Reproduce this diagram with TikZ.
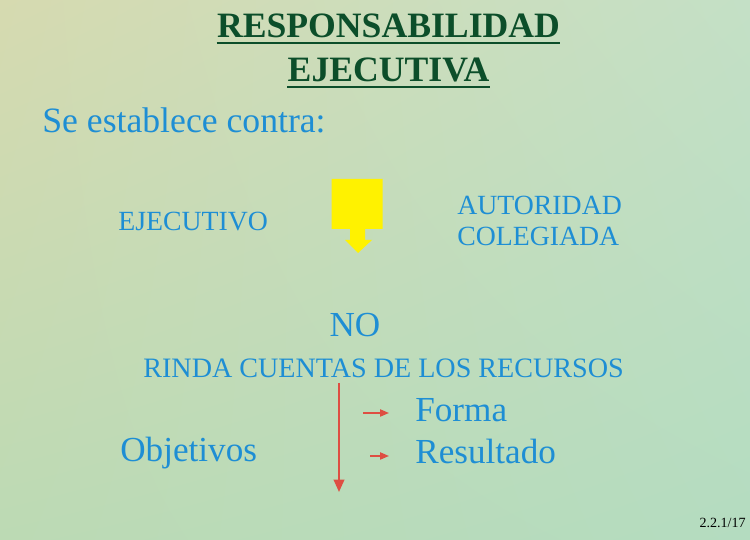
\documentclass[tikz,border=0pt]{standalone}
\usepackage{fontspec}
\setmainfont{Liberation Serif}
\usetikzlibrary{arrows.meta,shadings}

\definecolor{titlegreen}{RGB}{12,78,42}
\definecolor{textblue}{RGB}{30,142,212}
\definecolor{arrowred}{RGB}{222,78,66}
\definecolor{bgUL}{RGB}{214,218,176}
\definecolor{bgUR}{RGB}{196,224,198}
\definecolor{bgLL}{RGB}{188,218,180}
\definecolor{bgLR}{RGB}{180,220,192}

\begin{document}
\begin{tikzpicture}[
  bluetxt/.style={text=textblue,inner sep=0pt},
  redarrow/.style={arrowred,line width=0.9pt,-{Triangle[length=5pt,width=4pt]}}
]
% background
\useasboundingbox (0,0) rectangle (15,10.8);
\shade[upper left=bgUL,upper right=bgUR,lower left=bgLL,lower right=bgLR]
  (0,0) rectangle (15,10.8);

% title
\node[anchor=base,inner sep=0pt,text=titlegreen,font=\fontsize{20.3}{24}\selectfont\bfseries]
  (title1) at (7.77,10.04) {RESPONSABILIDAD};
\node[anchor=base,inner sep=0pt,text=titlegreen,font=\fontsize{20.3}{24}\selectfont\bfseries]
  (title2) at (7.77,9.16) {EJECUTIVA};
\draw[titlegreen,line width=1.3pt] ([yshift=-2.9pt]title1.base west) -- ([yshift=-2.9pt]title1.base east);
\draw[titlegreen,line width=1.3pt] ([yshift=-2.9pt]title2.base west) -- ([yshift=-2.9pt]title2.base east);

\node[bluetxt,anchor=base west,font=\fontsize{20.3}{24}\selectfont] (contra) at (0.84,8.14) {Se establece contra:};

% the two sides
\node[bluetxt,anchor=base west,font=\fontsize{15.8}{18}\selectfont] (ejecutivo) at (2.36,6.18) {EJECUTIVO};
\node[bluetxt,anchor=north west,align=left,font=\fontsize{15.8}{17.6}\selectfont] (autoridad) at (9.14,6.88) {AUTORIDAD\\COLEGIADA};

% yellow arrow
\fill[yellow] (6.63,7.22) -- (7.65,7.22) -- (7.65,6.22) -- (7.3,6.22) -- (7.3,6.0)
  -- (7.44,6.0) -- (7.16,5.74) -- (6.9,6.0) -- (7.0,6.0) -- (7.0,6.22) -- (6.63,6.22) -- cycle;

\node[bluetxt,anchor=base,font=\fontsize{20}{24}\selectfont] (no) at (7.1,4.06) {NO};
\node[bluetxt,anchor=base west,font=\fontsize{16}{18}\selectfont] (rinda) at (2.86,3.24) {RINDA CUENTAS DE LOS RECURSOS};

% lower part
\node[bluetxt,anchor=base west,font=\fontsize{20}{24}\selectfont] (objetivos) at (2.4,1.56) {Objetivos};
\node[bluetxt,anchor=base west,font=\fontsize{20}{24}\selectfont] (forma) at (8.3,2.36) {Forma};
\node[bluetxt,anchor=base west,font=\fontsize{20}{24}\selectfont] (resultado) at (8.3,1.52) {Resultado};

\coordinate (vtop) at (6.78,3.14);
\coordinate (vbot) at (6.78,0.96);
\draw[redarrow,line width=1.1pt,-{Triangle[length=7pt,width=6pt]}] (vtop) -- (vbot);

\coordinate (fa) at (7.26,2.54);
\coordinate (ra) at (7.40,1.68);
\draw[redarrow,shorten >=0.52cm] (fa) -- (fa -| forma.west);
\draw[redarrow,shorten >=0.52cm] (ra) -- (ra -| resultado.west);

% slide number
\node[anchor=base east,inner sep=0pt,font=\fontsize{8}{10}\selectfont] (pagenum) at (14.92,0.24) {2.2.1/17};
\end{tikzpicture}
\end{document}
